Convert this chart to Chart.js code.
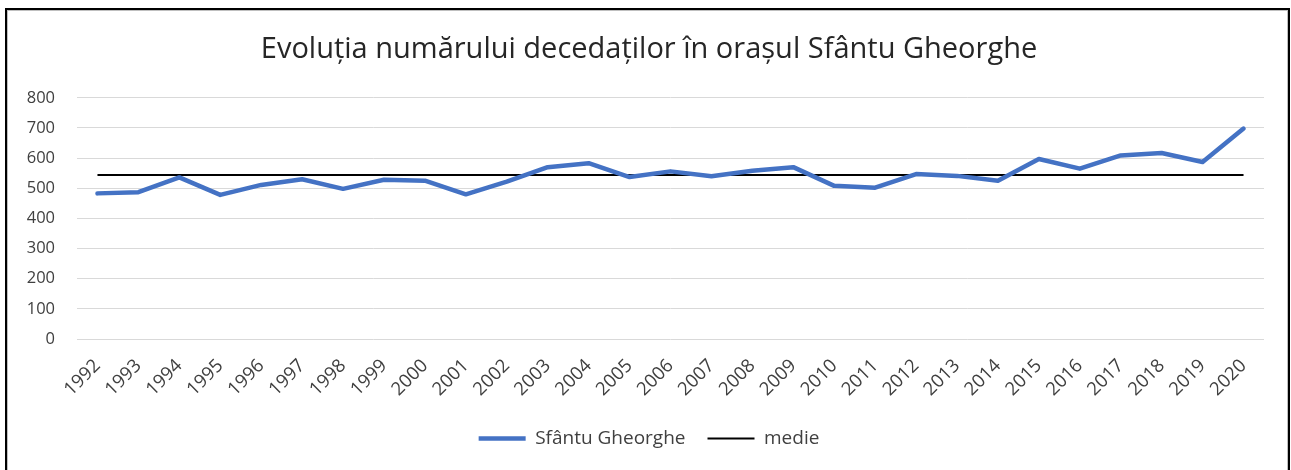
<!DOCTYPE html>
<html>
<head>
<meta charset="utf-8">
<script src="https://cdn.jsdelivr.net/npm/chart.js@4"></script>
<style>
    html, body { margin: 0; padding: 0; background: #fff; overflow: hidden; }
    #wrap { position: relative; width: 1291px; height: 470px; }
    #chart { position: absolute; left: 0; top: 0; }
    #frame {
        position: absolute; left: 5px; top: 8px; width: 1281px; height: 480px;
        border: 2px solid #000; box-shadow: inset 0 0 0 1px #bfbfbf; pointer-events: none;
    }
</style>
</head>
<body>
<div id="wrap">
    <canvas id="chart" width="1291" height="470"></canvas>
    <div id="frame"></div>
</div>
<script>
const years = ['1992', '1993', '1994', '1995', '1996', '1997', '1998', '1999', '2000', '2001',
    '2002', '2003', '2004', '2005', '2006', '2007', '2008', '2009', '2010', '2011',
    '2012', '2013', '2014', '2015', '2016', '2017', '2018', '2019', '2020'];
const decedati = [483, 487, 536, 478, 511, 530, 498, 528, 525, 480,
    522, 570, 583, 537, 556, 540, 558, 570, 508, 502,
    547, 541, 525, 597, 565, 609, 617, 587, 698];
const medie = [544, 544, 544, 544, 544, 544, 544, 544, 544, 544,
    544, 544, 544, 544, 544, 544, 544, 544, 544, 544,
    544, 544, 544, 544, 544, 544, 544, 544, 544];

const fontFamily = "'Open Sans', 'Noto Sans', sans-serif";
const textColor = '#404040';

let ctx = document.getElementById('chart').getContext('2d');

new Chart(ctx, {
    type: 'line',
    data: {
        labels: years,
        datasets: [
            {
                label: 'Sfântu Gheorghe',
                data: decedati,
                borderColor: '#4472C4',
                backgroundColor: '#4472C4',
                borderWidth: 4.5,
                pointRadius: 0,
                pointStyle: 'line',
                borderJoinStyle: 'round',
                borderCapStyle: 'round',
                tension: 0,
                fill: false
            },
            {
                label: 'medie',
                data: medie,
                borderColor: '#000000',
                backgroundColor: '#000000',
                borderWidth: 2,
                pointRadius: 0,
                pointStyle: 'line',
                tension: 0,
                fill: false
            }
        ]
    },
    options: {
        responsive: false,
        animation: false,
        layout: {
            padding: { left: 22, right: 15, top: 24, bottom: 12 }
        },
        scales: {
            x: {
                offset: true,
                grid: { display: false },
                border: { display: false },
                ticks: {
                    color: textColor,
                    font: { family: fontFamily, size: 18.5 },
                    maxRotation: 45,
                    minRotation: 45,
                    autoSkip: false,
                    padding: 8
                },
                afterFit: function (scale) { scale.height = 68; }
            },
            y: {
                min: 0,
                max: 800,
                grid: { color: '#d9d9d9', lineWidth: 1, drawTicks: false },
                border: { display: false },
                ticks: {
                    stepSize: 100,
                    color: textColor,
                    font: { family: fontFamily, size: 16.5 },
                    padding: 22
                },
                afterFit: function (scale) { scale.width = 55; }
            },
            // empty right axis, only keeps the plot area off the right edge
            spacer: {
                type: 'linear',
                position: 'right',
                grid: { display: false },
                border: { display: false },
                ticks: { display: false },
                afterFit: function (scale) { scale.width = 12; }
            }
        },
        plugins: {
            title: {
                display: true,
                text: 'Evoluția numărului decedaților în orașul Sfântu Gheorghe',
                color: '#262626',
                font: { family: fontFamily, size: 29, weight: 'normal' },
                padding: { top: 8, bottom: 31 }
            },
            legend: {
                position: 'bottom',
                labels: {
                    color: textColor,
                    font: { family: fontFamily, size: 19 },
                    usePointStyle: true,
                    pointStyleWidth: 47,
                    padding: 22
                }
            },
            tooltip: { enabled: false }
        }
    }
});
</script>
</body>
</html>
